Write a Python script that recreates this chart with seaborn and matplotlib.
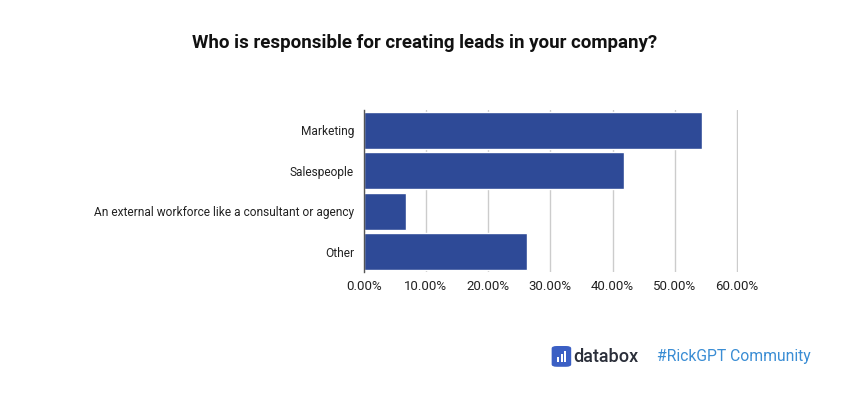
import matplotlib
matplotlib.use('Agg')
import matplotlib.pyplot as plt
import seaborn as sns
import pandas as pd
from matplotlib.patches import FancyBboxPatch
from matplotlib.ticker import FuncFormatter

# data
categories = ['Marketing', 'Salespeople',
              'An external workforce like a consultant or agency', 'Other']
shares = [54.4, 41.8, 6.8, 26.2]
xticks = [0, 10, 20, 30, 40, 50, 60]

sns.set_style('white')
plt.rcParams['font.family'] = ['Roboto', 'DejaVu Sans']

df = pd.DataFrame({'cat': categories, 'val': shares})

fig = plt.figure(figsize=(8.5, 4), dpi=100)
ax = fig.add_axes([0.428, 0.32, 0.44, 0.405])

sns.barplot(data=df, x='val', y='cat', orient='h', color='#2e4a97',
            saturation=1, width=0.92, ax=ax)

ax.set_xlim(0, 60.15)
ax.set_ylim(3.5, -0.5)
ax.set_xticks(xticks)
ax.xaxis.set_major_formatter(FuncFormatter(lambda v, p: f'{v:.2f}%'))
ax.grid(axis='x', color='#cccccc', lw=1)
ax.set_axisbelow(True)
for s in ['top', 'right', 'bottom']:
    ax.spines[s].set_visible(False)
ax.spines['left'].set_color('#555555')
ax.spines['left'].set_linewidth(1)
ax.tick_params(axis='x', length=0, labelsize=9.5, colors='#222222', pad=6)
ax.tick_params(axis='y', length=0, labelsize=8.6, colors='#222222', pad=7)
ax.set_xlabel('')
ax.set_ylabel('')

fig.text(0.5, 0.892, 'Who is responsible for creating leads in your company?',
         ha='center', va='center', fontsize=13.5, fontweight='bold', color='#111111')

# footer branding
icon = FancyBboxPatch((0.651, 0.085), 0.019, 0.048, boxstyle='round,pad=0.002,rounding_size=0.006',
                      transform=fig.transFigure, facecolor='#3b5fc4', edgecolor='none')
fig.patches.append(icon)
for dx, h in [(0.0045, 0.012), (0.0085, 0.02), (0.0125, 0.028)]:
    fig.patches.append(plt.Rectangle((0.651 + dx, 0.095), 0.0025, h, transform=fig.transFigure,
                                     facecolor='white', edgecolor='none'))
fig.text(0.675, 0.108, 'databox', ha='left', va='center', fontsize=13,
         fontweight='medium', color='#2b2f3a')
fig.text(0.773, 0.108, '#RickGPT Community', ha='left', va='center', fontsize=11.3,
         color='#3a8dd4')

fig.savefig('out.png', dpi=100)
